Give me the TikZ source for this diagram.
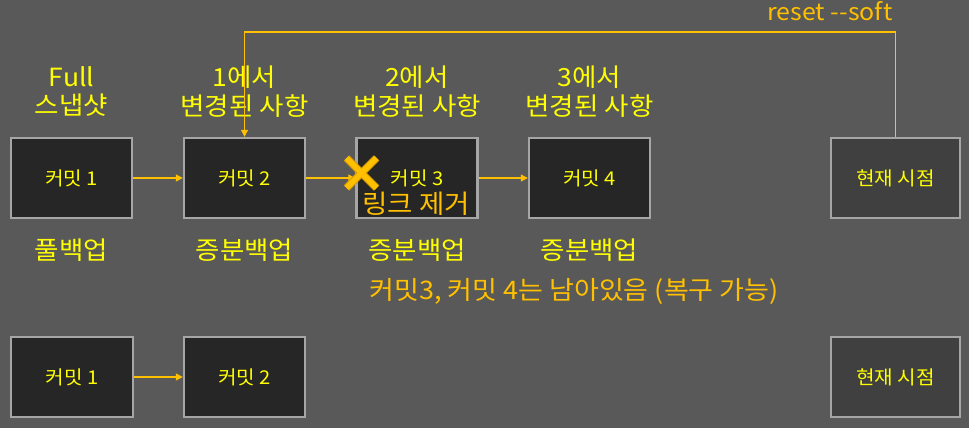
\documentclass[tikz,border=0pt]{standalone}
\usepackage{fontspec}
\setmainfont[FakeStretch=1.06]{Noto Sans CJK KR}
\usetikzlibrary{arrows.meta,calc}
\definecolor{bg}{HTML}{595959}
\definecolor{boxfill}{HTML}{262626}
\definecolor{curfill}{HTML}{404040}
\definecolor{boxline}{HTML}{A6A6A6}
\definecolor{lblyellow}{HTML}{FFFF00}
\definecolor{accent}{HTML}{FFC000}
\definecolor{accentdark}{HTML}{D99A00}
\tikzset{
  commit/.style={draw=boxline, line width=2.4pt, fill=boxfill, minimum height=80pt, minimum width=121pt, inner sep=0pt, text=lblyellow, font=\fontsize{19}{22}\selectfont},
  curbox/.style={commit, fill=curfill, minimum width=129pt},
  toplabel/.style={text=lblyellow, align=center, font=\fontsize{25}{28.5}\selectfont, inner sep=0pt},
  botlabel/.style={text=lblyellow, font=\fontsize{25}{28}\selectfont, inner sep=0pt},
  arr/.style={draw=accent, line width=1.2pt, -{Triangle[length=7pt,width=7pt]}},
  note/.style={text=accent, font=\fontsize{25.5}{28}\selectfont, inner sep=0pt}
}
\begin{document}
\begin{tikzpicture}[x=1pt,y=-1pt]
\fill[bg] (0,0) rectangle (969,428);
\useasboundingbox (0,0) rectangle (969,428);
% top row
\node[commit] (c1) at (71.5,178) {커밋 1};
\node[commit] (c2) at (244.5,178) {커밋 2};
\node[commit] (c3) at (417,178) {};
\node[commit] (c4) at (589.5,178) {커밋 4};
\node[curbox] (cur) at (895.5,178) {현재 시점};
\node[text=lblyellow, font=\fontsize{19}{22}\selectfont, inner sep=0pt] (c3t) at (417,178) {커밋 3};
\node[note, font=\fontsize{26}{28}\selectfont] (link) at (416,204) {링크 제거};
% labels above
\node[toplabel] (l1) at (71.5,91.5) {Full\\스냅샷};
\node[toplabel] (l2) at (244.5,91.5) {1에서\\변경된 사항};
\node[toplabel] (l3) at (417,91.5) {2에서\\변경된 사항};
\node[toplabel] (l4) at (589.5,91.5) {3에서\\변경된 사항};
% labels below
\node[botlabel] (b1) at (71.5,250.5) {풀백업};
\node[botlabel] (b2) at (244.5,250.5) {증분백업};
\node[botlabel] (b3) at (417,250.5) {증분백업};
\node[botlabel] (b4) at (589.5,250.5) {증분백업};
\node[note] (rem) at (574,291) {커밋3, 커밋 4는 남아있음 (복구 가능)};
% arrows
\draw[arr] (c1) -- (c2);
\draw[arr] (c2) -- (c3);
\draw[arr] (c3) -- (c4);
\coordinate (rs) at (0,32);
\draw[arr] (cur.north) -- (cur.north |- rs) -| (c2.north);
\node[note, font=\fontsize{23.5}{26}\selectfont] (rlabel) at (830,11) {reset -{}-soft};
% cross
\coordinate (xm) at (361.5,173);
\foreach \c/\w in {accentdark/7.5pt, accent/5.5pt}{
  \draw[\c, line width=\w] ($(xm)+(-15,-15)$) -- ($(xm)+(15,15)$);
  \draw[\c, line width=\w] ($(xm)+(-15,15)$) -- ($(xm)+(15,-15)$);
}
% bottom row
\node[commit, minimum width=122pt] (d1) at (72,377) {커밋 1};
\node[commit] (d2) at (244.5,377) {커밋 2};
\node[curbox] (dcur) at (895.5,377) {현재 시점};
\draw[arr] (d1) -- (d2);
\end{tikzpicture}
\end{document}
